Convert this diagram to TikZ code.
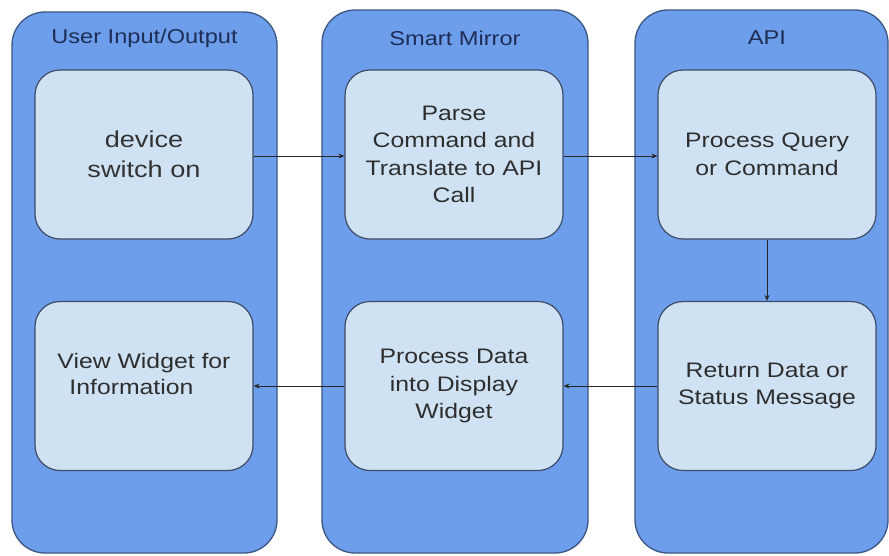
\documentclass[tikz,border=0pt]{standalone}
\usepackage{fontspec}
\setmainfont{Liberation Sans}[FakeStretch=1.18]
\usetikzlibrary{arrows.meta,positioning}
\definecolor{lanefill}{HTML}{6D9EEB}
\definecolor{laneline}{HTML}{3A5683}
\definecolor{boxfill}{HTML}{CFE2F3}
\definecolor{boxline}{HTML}{3D4B66}
\definecolor{titletext}{HTML}{1E2D55}
\definecolor{bodytext}{HTML}{2E2E2E}
\tikzset{
  lane/.style={draw=laneline, fill=lanefill, line width=1.3pt, rounded corners=33pt},
  lanetitle/.style={font=\fontsize{20}{24}\selectfont, text=titletext, inner sep=0pt},
  stepbox/.style={draw=boxline, fill=boxfill, line width=1.2pt, rounded corners=25pt,
    minimum width=218pt, minimum height=169pt, inner sep=0pt, align=center,
    text=bodytext, font=\fontsize{21}{27.5}\selectfont},
  flow/.style={draw=black!85, line width=1pt, -{Stealth[length=6pt,width=5pt]}}
}
\begin{document}
\begin{tikzpicture}[x=1pt,y=-1pt]
  \useasboundingbox (0,0) rectangle (889,555);
  \fill[white] (0,0) rectangle (889,555);

  % swim lanes
  \draw[lane] (12,12) rectangle (277,553);
  \draw[lane] (322,10) rectangle (588,553);
  \draw[lane] (635,10) rectangle (888,553);

  \node[lanetitle] (t1) at (144.5,38) {User Input/Output};
  \node[lanetitle] (t2) at (455,38) {Smart Mirror};
  \node[lanetitle] (t3) at (767,38) {API};

  % process steps
  \node[stepbox, font=\fontsize{23}{30}\selectfont, text=black!80] (a1) at (144,154.5) {device\\switch on};
  \node[stepbox] (a2) at (144,386) {};
  \node[text=bodytext, font=\fontsize{21}{25.5}\selectfont, align=left, inner sep=0pt] (a2t) at (144,374)
    {View Widget for\\\hspace*{12pt}Information};

  \node[stepbox] (b1) at (454,154.5) {Parse\\Command and\\Translate to API\\Call};
  \node[stepbox] (b2) at (454,386) {Process Data\\into Display\\Widget};

  \node[stepbox] (c1) at (767,154.5) {Process Query\\or Command};
  \node[stepbox] (c2) at (767,386) {Return Data or\\Status Message};

  % connectors
  \draw[flow] ([yshift=-1.5pt]a1.east) -- ([yshift=-1.5pt]b1.west);
  \draw[flow] ([yshift=-1.5pt]b1.east) -- ([yshift=-1.5pt]c1.west);
  \draw[flow] (c1.south) -- (c2.north);
  \draw[flow] (c2.west) -- (b2.east);
  \draw[flow] (b2.west) -- (a2.east);
\end{tikzpicture}
\end{document}
